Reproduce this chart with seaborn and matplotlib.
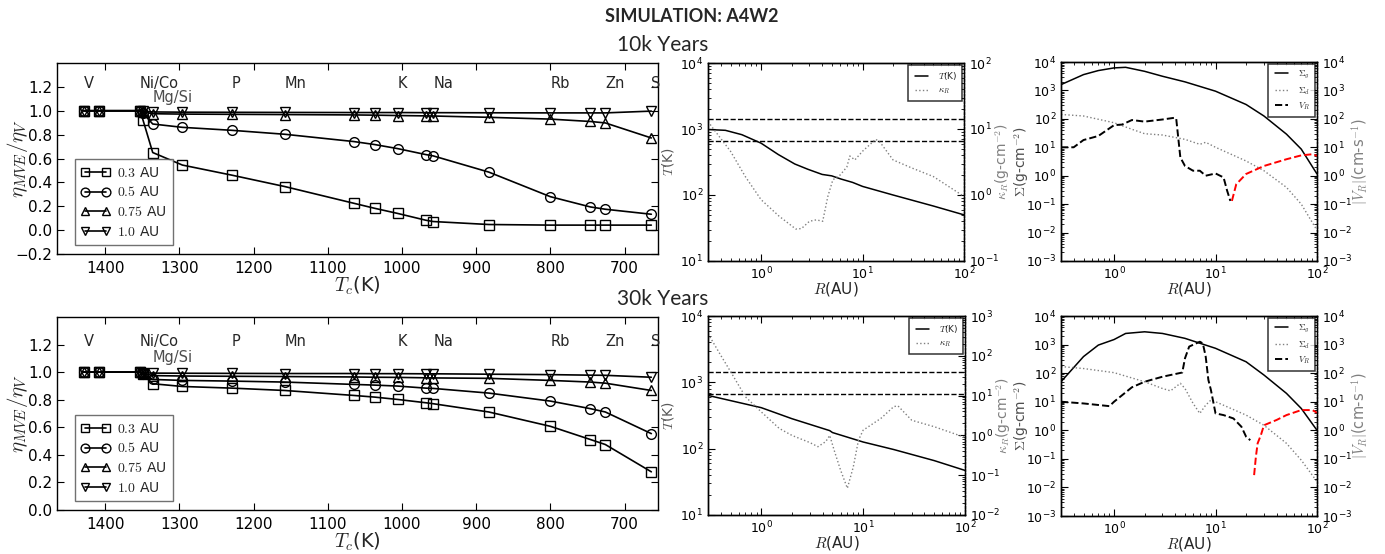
import numpy as np
import pandas as pd
import matplotlib
matplotlib.use("Agg")
import matplotlib.pyplot as plt
from matplotlib.ticker import FuncFormatter
import seaborn as sns

# ---------------- data ----------------
Tc = [1429, 1408, 1353, 1349, 1336, 1296, 1229, 1158, 1065, 1037, 1006, 968, 958, 883, 800, 746, 726, 664]

eta10_03 = [1.0, 1.0, 1.0, 0.92, 0.65, 0.545, 0.46, 0.365, 0.225, 0.183, 0.14, 0.083, 0.072, 0.047, 0.042, 0.042, 0.042, 0.042]
eta10_05 = [1.0, 1.0, 1.0, 0.98, 0.889, 0.861, 0.836, 0.803, 0.742, 0.717, 0.683, 0.633, 0.622, 0.486, 0.28, 0.194, 0.175, 0.133]
eta10_075 = [1.0, 1.0, 1.0, 0.99, 0.975, 0.972, 0.97, 0.968, 0.965, 0.963, 0.96, 0.957, 0.956, 0.945, 0.93, 0.91, 0.898, 0.772]
eta10_10 = [1.0, 1.0, 1.0, 0.995, 0.99, 0.988, 0.987, 0.986, 0.985, 0.985, 0.985, 0.984, 0.984, 0.983, 0.982, 0.982, 0.982, 0.997]

eta30_03 = [1.0, 1.0, 1.0, 0.983, 0.916, 0.896, 0.884, 0.867, 0.831, 0.819, 0.802, 0.778, 0.771, 0.711, 0.607, 0.511, 0.475, 0.277]
eta30_05 = [1.0, 1.0, 1.0, 0.985, 0.947, 0.94, 0.935, 0.928, 0.911, 0.906, 0.899, 0.884, 0.882, 0.848, 0.79, 0.735, 0.711, 0.554]
eta30_075 = [1.0, 1.0, 1.0, 0.992, 0.975, 0.972, 0.97, 0.968, 0.965, 0.963, 0.962, 0.959, 0.958, 0.955, 0.94, 0.928, 0.92, 0.867]
eta30_10 = [1.0, 1.0, 1.0, 0.996, 0.993, 0.992, 0.991, 0.99, 0.99, 0.989, 0.989, 0.988, 0.988, 0.985, 0.982, 0.978, 0.977, 0.963]

series_labels = [r"$0.3$ AU", r"$0.5$ AU", r"$0.75$ AU", r"$1.0$ AU"]
series_markers = ["s", "o", "^", "v"]

elem_names = ["V", "Ni/Co", "P", "Mn", "K", "Na", "Rb", "Zn", "S"]
elem_T = [1429, 1353, 1229, 1158, 1006, 958, 800, 726, 664]
mgsi_T = 1336

# middle panels: temperature and opacity
R_T10 = [0.31, 0.445, 0.647, 1.0, 1.48, 2.15, 2.9, 4.0, 4.97, 6.1, 8.0, 10, 20, 50, 100]
T10 = [980, 955, 820, 610, 410, 295, 245, 205, 195, 175, 155, 135, 100, 68, 50]
R_k10 = [0.3, 0.34, 0.5, 0.7, 1.0, 1.5, 2.2, 2.5, 3.0, 3.5, 4.05, 4.55, 5.1, 6.0, 7.0, 7.5, 8.4, 10, 13.5, 15, 20, 30, 50, 100]
k10 = [13, 10, 4.6, 1.9, 0.85, 0.48, 0.305, 0.31, 0.40, 0.42, 0.40, 0.95, 1.7, 2.0, 2.65, 3.9, 3.4, 4.6, 7.0, 6.2, 3.4, 2.6, 1.9, 0.95]

R_T30 = [0.3, 1.0, 2.0, 4.7, 5.0, 10, 20, 50, 100]
T30 = [635, 415, 283, 187, 175, 126, 97, 66, 47]
R_k30 = [0.3, 0.4, 0.5, 0.7, 1.0, 1.5, 2.0, 3.0, 3.6, 4.3, 4.7, 5.2, 6.0, 7.0, 8.0, 9.0, 10, 15, 20, 22, 30, 50, 100]
k30 = [360, 103, 40, 9.3, 3.9, 1.5, 1.0, 0.66, 0.52, 0.70, 1.0, 0.42, 0.135, 0.047, 0.16, 0.76, 1.35, 2.7, 5.3, 5.5, 2.4, 1.65, 0.89]

T_lines = [1429, 664]

# right panels: surface densities and radial velocity
R_s = [0.3, 0.5, 0.7, 1.0, 1.3, 2.0, 3.0, 5.0, 10, 20, 30, 50, 70, 100]
sg10 = [1600, 3600, 5000, 6200, 6500, 4700, 3150, 2000, 940, 320, 126, 29, 8.6, 1.15]
sg30 = [50, 380, 960, 1500, 2450, 2800, 2450, 1650, 740, 250, 86, 19.6, 5.8, 1.0]

R_d10 = [0.3, 0.5, 1.0, 1.5, 2.0, 3.0, 5.0, 7.0, 8.0, 10, 20, 30, 50, 70, 100]
sd10 = [143, 126, 73, 43, 30, 27, 19, 12.7, 15, 10, 3.3, 1.5, 0.39, 0.1, 0.012]
R_d30 = [0.3, 0.5, 1.0, 2.0, 3.0, 3.6, 4.5, 5.0, 6.0, 7.0, 8.0, 9.0, 10, 20, 30, 50, 70, 100]
sd30 = [170, 145, 104, 50, 29, 24, 44, 29, 8.8, 3.9, 7.6, 11.4, 10, 3.4, 1.5, 0.35, 0.09, 0.016]

R_vin10 = [0.3, 0.4, 0.5, 0.7, 1.0, 1.2, 1.5, 2.0, 3.0, 4.0, 4.1, 4.5, 5.0, 6.0, 7.0, 8.0, 10, 12, 13, 14]
vin10 = [10, 10, 18, 25, 60, 63, 91, 80, 95, 110, 100, 4.4, 2.2, 1.5, 1.5, 1.0, 1.2, 0.87, 0.3, 0.13]
R_vout10 = [14.5, 16, 20, 30, 50, 70, 90, 100]
vout10 = [0.13, 0.5, 1.15, 2.2, 3.8, 5.2, 5.7, 5.0]

R_vin30 = [0.3, 0.5, 0.9, 1.0, 1.5, 2.0, 3.0, 4.7, 5.0, 5.5, 7.0, 7.5, 8.0, 8.5, 9.0, 10, 12, 15, 18, 20, 22]
vin30 = [10, 8.7, 7, 10, 32, 50, 75, 105, 330, 850, 1260, 1100, 380, 58, 26, 3.9, 3.4, 2.6, 1.33, 0.6, 0.45]
R_vout30 = [24, 25, 26, 28, 30, 40, 50, 70, 90, 100]
vout30 = [0.027, 0.12, 0.35, 0.68, 1.5, 2.3, 3.4, 5.1, 5.1, 4.1]

# ---------------- style ----------------
sns.set_style("ticks")
plt.rcParams.update({
    "font.family": ["DejaVu Sans"],
    "mathtext.fontset": "cm",
    "axes.unicode_minus": False,
    "xtick.direction": "in", "ytick.direction": "in",
    "xtick.top": True, "ytick.right": True,
    "xtick.major.size": 5, "ytick.major.size": 5,
    "xtick.minor.size": 2.5, "ytick.minor.size": 2.5,
    "axes.edgecolor": "black", "axes.linewidth": 1.0,
    "xtick.color": "black", "ytick.color": "black",
    "legend.numpoints": 2,
})

W, H = 1385, 554
fig = plt.figure(figsize=(W / 100, H / 100), dpi=100)


def rect(x0, y0, x1, y1):
    return [x0 / W, 1 - y1 / H, (x1 - x0) / W, (y1 - y0) / H]


fig.text(692 / W, 1 - 16 / H, "SIMULATION: A4W2", ha="center", va="center",
         fontsize=13, fontweight="bold", family=["Lato", "DejaVu Sans"])
fig.text(663 / W, 1 - 45 / H, "10k Years", ha="center", va="center",
         fontsize=15, family=["Lato", "DejaVu Sans"])
fig.text(663 / W, 1 - 299 / H, "30k Years", ha="center", va="center",
         fontsize=15, family=["Lato", "DejaVu Sans"])

minus_fmt = FuncFormatter(lambda v, p: f"{v:.1f}".replace("-", "\u2212"))


def eta_panel(r, data, ylim, yticks, lab_y, mg_y):
    ax = fig.add_axes(r)
    for vals, lab, mk in zip(data, series_labels, series_markers):
        df = pd.DataFrame({"Tc": Tc, "eta": vals})
        sns.lineplot(data=df, x="Tc", y="eta", ax=ax, color="black", lw=1.2,
                     marker=mk, markersize=7, markerfacecolor="none",
                     markeredgecolor="black", markeredgewidth=1.0, label=lab,
                     sort=False)
    ax.set_xlim(1465, 655)
    ax.set_ylim(*ylim)
    ax.set_xticks([1400, 1300, 1200, 1100, 1000, 900, 800, 700])
    ax.set_yticks(yticks)
    ax.yaxis.set_major_formatter(minus_fmt)
    ax.tick_params(labelsize=11)
    ax.tick_params(axis="x", pad=5)
    for nm, t in zip(elem_names, elem_T):
        ax.text(t, lab_y, nm, ha="left", va="center", fontsize=10.5)
    ax.text(mgsi_T, mg_y, "Mg/Si", ha="left", va="center", fontsize=10.5, color="0.3")
    ax.set_xlabel(r"$T_c$(K)", fontsize=14, labelpad=-1)
    ax.set_ylabel(r"$\eta_{MVE}/\eta_V$", fontsize=15)
    ax.yaxis.set_label_coords(-0.045, 0.5)
    leg = ax.legend(loc="lower left", fontsize=10, frameon=True, fancybox=False,
                    handlelength=2.1, borderpad=0.45, labelspacing=0.42,
                    handletextpad=0.5, borderaxespad=0, markerscale=0.9,
                    bbox_to_anchor=(0.03, 0.045))
    leg.get_frame().set_edgecolor("0.3")
    leg.get_frame().set_linewidth(1.0)
    return ax


eta_panel(rect(57, 63, 658, 254), [eta10_03, eta10_05, eta10_075, eta10_10],
          (-0.2, 1.4), np.arange(-0.2, 1.21, 0.2), 1.225, 1.115)
eta_panel(rect(57, 317, 658, 510), [eta30_03, eta30_05, eta30_075, eta30_10],
          (0.0, 1.4), np.arange(0.0, 1.21, 0.2), 1.225, 1.105)


def logfmt(ax):
    ax.set_xscale("log")
    ax.set_yscale("log")


def small_legend(ax2, handles, labels):
    leg = ax2.legend(handles, labels, loc="upper right", fontsize=6.5, frameon=True,
                     fancybox=False, handlelength=2.0, borderpad=0.5, labelspacing=0.45,
                     borderaxespad=0.25)
    leg.get_frame().set_edgecolor("black")
    leg.get_frame().set_linewidth(1.1)


def temp_panel(r, RT, T, Rk, k, k_lim):
    ax = fig.add_axes(r)
    ax.tick_params(right=False, labelsize=9)
    sns.lineplot(x=RT, y=T, ax=ax, color="black", lw=1.1, sort=False, label=r"$T$(K)")
    for tl in T_lines:
        ax.axhline(tl, color="black", ls="--", lw=1.0)
    logfmt(ax)
    ax.set_xlim(0.3, 100)
    ax.set_ylim(10, 1e4)
    ax.set_xlabel(r"$R$(AU)", fontsize=11, labelpad=-2)
    ax.set_ylabel(r"$T$(K)", fontsize=10, color="0.35")
    ax.yaxis.set_label_coords(-0.125, 0.5)
    ax2 = ax.twinx()
    sns.lineplot(x=Rk, y=k, ax=ax2, color="0.5", lw=1.0, ls=":", sort=False, label=r"$\kappa_R$")
    ax2.set_yscale("log")
    ax2.set_ylim(*k_lim)
    ax2.tick_params(labelsize=9, direction="in")
    ax2.spines["right"].set_linestyle(":")
    ax2.set_ylabel(r"$\kappa_R$(g-cm$^{-2}$)", fontsize=10, color="0.5")
    ax2.yaxis.set_label_coords(1.113, 0.5)
    h1, l1 = ax.get_legend_handles_labels()
    h2, l2 = ax2.get_legend_handles_labels()
    for a in (ax, ax2):
        if a.get_legend():
            a.get_legend().remove()
    small_legend(ax2, h1 + h2, l1 + l2)
    return ax


temp_panel(rect(708, 63, 964, 261), R_T10, T10, R_k10, k10, (0.1, 100))
temp_panel(rect(708, 316, 965, 515), R_T30, T30, R_k30, k30, (0.01, 1000))


def sigma_panel(r, sg, Rd, sd, Rvi, vi, Rvo, vo):
    ax = fig.add_axes(r)
    ax.tick_params(right=False, labelsize=9)
    sns.lineplot(x=R_s, y=sg, ax=ax, color="black", lw=1.1, sort=False, label=r"$\Sigma_g$")
    sns.lineplot(x=Rd, y=sd, ax=ax, color="0.5", lw=1.0, ls=":", sort=False, label=r"$\Sigma_d$")
    logfmt(ax)
    ax.set_xlim(0.3, 100)
    ax.set_ylim(1e-3, 1e4)
    ax.set_xlabel(r"$R$(AU)", fontsize=11, labelpad=-2)
    ax.set_ylabel(r"$\Sigma$(g-cm$^{-2}$)", fontsize=10, color="0.3")
    ax.yaxis.set_label_coords(-0.117, 0.5)
    ax2 = ax.twinx()
    sns.lineplot(x=Rvi, y=vi, ax=ax2, color="black", lw=1.4, ls="--", sort=False, label=r"$V_R$")
    sns.lineplot(x=Rvo, y=vo, ax=ax2, color="red", lw=1.4, ls="--", sort=False)
    ax2.set_yscale("log")
    ax2.set_ylim(1e-3, 1e4)
    ax2.tick_params(labelsize=9, direction="in")
    ax2.spines["right"].set_linestyle(":")
    ax2.set_ylabel(r"$|V_R|$(cm-s$^{-1}$)", fontsize=10.5, color="0.5")
    ax2.yaxis.set_label_coords(1.125, 0.5)
    h1, l1 = ax.get_legend_handles_labels()
    h2, l2 = ax2.get_legend_handles_labels()
    for a in (ax, ax2):
        if a.get_legend():
            a.get_legend().remove()
    small_legend(ax2, h1 + h2[:1], l1 + l2[:1])
    return ax


sigma_panel(rect(1061, 62, 1317, 261), sg10, R_d10, sd10, R_vin10, vin10, R_vout10, vout10)
sigma_panel(rect(1061, 316, 1317, 516), sg30, R_d30, sd30, R_vin30, vin30, R_vout30, vout30)

fig.savefig("out.png", dpi=100)
